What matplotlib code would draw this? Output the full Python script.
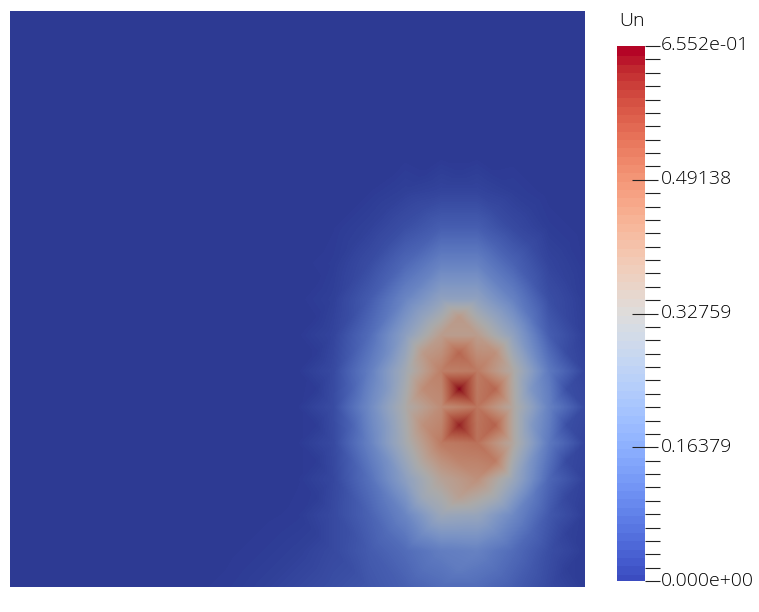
import matplotlib
matplotlib.use('Agg')
import matplotlib.pyplot as plt
import matplotlib.tri as mtri
import numpy as np
from matplotlib.cm import ScalarMappable
from matplotlib.colors import ListedColormap, Normalize

plt.rcParams['font.family'] = ['Open Sans', 'DejaVu Sans']

# solution "Un", rows go top to bottom
# values at the 17x17 cell corners
corner_vals = [
    [0]*17, [0]*17, [0]*17, [0]*17, [0]*17,
    [0,0,0,0,0,0,0,0,0,0,.002,.012,.02,.02,.008,0,0],
    [0,0,0,0,0,0,0,0,0,.002,.014,.04,.07,.07,.03,.006,0],
    [0,0,0,0,0,0,0,0,0,.006,.035,.09,.15,.15,.08,.02,.002],
    [0,0,0,0,0,0,0,0,0,.012,.065,.16,.25,.25,.15,.04,.006],
    [0,0,0,0,0,0,0,0,.001,.02,.10,.24,.39,.39,.25,.07,.01],
    [0,0,0,0,0,0,0,0,.001,.03,.14,.30,.47,.48,.34,.13,.02],
    [0,0,0,0,0,0,0,0,.002,.035,.17,.33,.44,.49,.35,.15,.03],
    [0,0,0,0,0,0,0,0,.002,.03,.15,.31,.48,.50,.35,.13,.02],
    [0,0,0,0,0,0,0,0,.002,.025,.11,.24,.37,.43,.28,.09,.015],
    [0,0,0,0,0,0,0,.001,.004,.03,.08,.16,.28,.27,.17,.06,.008],
    [0,0,0,0,0,0,.001,.005,.012,.03,.065,.10,.14,.15,.10,.04,.005],
    [0,0,0,0,0,.001,.004,.012,.025,.04,.055,.075,.10,.10,.07,.03,.005],
]
# values at the 16x16 cell centres
center_vals = [
    [0]*16, [0]*16, [0]*16, [0]*16,
    [0,0,0,0,0,0,0,0,0,0,0,.003,.006,.003,0,0],
    [0,0,0,0,0,0,0,0,0,.002,.015,.035,.045,.03,.01,0],
    [0,0,0,0,0,0,0,0,0,.012,.04,.08,.11,.08,.034,.006],
    [0,0,0,0,0,0,0,0,.001,.025,.08,.155,.20,.15,.065,.015],
    [0,0,0,0,0,0,0,0,.002,.04,.13,.26,.40,.26,.12,.025],
    [0,0,0,0,0,0,0,0,.003,.065,.18,.40,.52,.43,.19,.035],
    [0,0,0,0,0,0,0,0,.004,.08,.22,.44,.655,.52,.21,.04],
    [0,0,0,0,0,0,0,0,.004,.08,.23,.43,.63,.53,.22,.04],
    [0,0,0,0,0,0,0,0,.004,.07,.19,.36,.46,.48,.20,.03],
    [0,0,0,0,0,0,0,.001,.006,.055,.14,.29,.38,.31,.14,.025],
    [0,0,0,0,0,0,.001,.005,.012,.045,.10,.18,.21,.18,.09,.015],
    [0,0,0,0,0,.001,.005,.012,.025,.04,.07,.11,.135,.11,.06,.01],
]
vmin = 0.0
vmax = 0.6552
major_vals = [0.16379, 0.32759, 0.49138]
major_labels = ['0.16379', '0.32759', '0.49138']
end_labels = ['0.000e+00', '6.552e-01']
bar_title = 'Un'

W, H = 759, 612
BAR_TOP, BAR_BOTTOM = 46, 581


def px_axes(fig, left, top, right, bottom):
    return fig.add_axes([left / W, 1 - bottom / H, (right - left) / W, (bottom - top) / H])


def bar_label(fig, value, label):
    y = BAR_BOTTOM - (BAR_BOTTOM - BAR_TOP) * (value - vmin) / (vmax - vmin) - 0.5
    fig.text(660.5 / W, 1 - y / H, label, fontsize=14, fontweight='light', color='black', va='center', ha='left')


corners = np.array(corner_vals, dtype=float)
centers = np.array(center_vals, dtype=float)
n = corners.shape[0] - 1

# criss-cross mesh, each square cell split in four around its centre
xs, ys, zs, tris = [], [], [], []
for j in range(n + 1):
    for i in range(n + 1):
        xs.append(i)
        ys.append(j)
        zs.append(corners[j, i])
for j in range(n):
    for i in range(n):
        xs.append(i + 0.5)
        ys.append(j + 0.5)
        zs.append(centers[j, i])
        c = (n + 1) ** 2 + j * n + i
        a, b = j * (n + 1) + i, j * (n + 1) + i + 1
        d, e = a + n + 1, b + n + 1
        tris += [[a, b, c], [b, e, c], [e, d, c], [d, a, c]]

tri = mtri.Triangulation(xs, ys, tris)
interp = mtri.LinearTriInterpolator(tri, np.array(zs))
qx, qy = np.meshgrid((np.arange(575) + 0.5) / 575 * n, (np.arange(576) + 0.5) / 576 * n)
field = np.ma.filled(interp(qx, qy), 0.0)

# the surface is lit so it comes out darker than the colour bar
lut = plt.get_cmap('coolwarm')(np.linspace(0, 1, 256))
lut[:, :3] *= 0.77
field_cmap = ListedColormap(lut)

fig = plt.figure(figsize=(W / 100, H / 100), dpi=100, facecolor='white')
ax = px_axes(fig, 10, 11, 585, 587)
ax.imshow(field, cmap=field_cmap, vmin=vmin, vmax=vmax, aspect='auto', interpolation='nearest')
ax.axis('off')

cax = px_axes(fig, 617, BAR_TOP, 645, BAR_BOTTOM)
bar_cmap = plt.get_cmap('coolwarm').resampled(64)
sm = ScalarMappable(norm=Normalize(vmin, vmax), cmap=bar_cmap)
cb = fig.colorbar(sm, cax=cax)
cb.outline.set_visible(False)
cb.solids.set_edgecolor('face')
minor_vals = [vmin + (vmax - vmin) * k / 40 for k in range(41) if k % 10 != 0 or k in (0, 40)]
cax.yaxis.set_ticks(major_vals, labels=[])
cax.yaxis.set_ticks(minor_vals, minor=True)
cax.tick_params(axis='y', which='major', direction='inout', length=26 * 0.72, width=0.8, color='#222222')
cax.tick_params(axis='y', which='minor', direction='out', length=15 * 0.72, width=0.8, color='#222222')
for value, label in zip(major_vals, major_labels):
    bar_label(fig, value, label)
bar_label(fig, vmin, end_labels[0])
bar_label(fig, vmax, end_labels[1])
fig.text(619.5 / W, 1 - 20.5 / H, bar_title, fontsize=14, fontweight='light', color='black', va='center', ha='left')

fig.savefig('out.png', dpi=100)
